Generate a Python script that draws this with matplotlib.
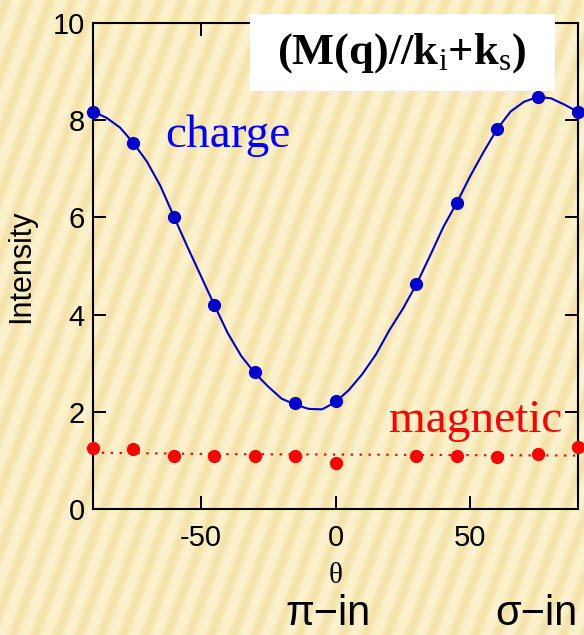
import numpy as np
import matplotlib
matplotlib.use("Agg")
import matplotlib.pyplot as plt
from matplotlib.patches import Rectangle

# --- data -------------------------------------------------------------
theta_pts = [-90, -75, -60, -45, -30, -15, 0, 30, 45, 60, 75, 90]
charge_pts = [8.17, 7.53, 6.00, 4.20, 2.82, 2.19, 2.22, 4.63, 6.29, 7.82, 8.48, 8.17]
magnetic_pts = [1.26, 1.23, 1.09, 1.09, 1.09, 1.09, 0.95, 1.09, 1.09, 1.06, 1.13, 1.28]

theta_fit = [-90, -85, -80, -75, -70, -65, -60, -55, -50, -45, -40, -35, -30,
             -25, -20, -15, -10, -5, 0, 5, 10, 15, 20, 25, 30, 35, 40, 45,
             50, 55, 60, 65, 70, 75, 80, 85, 90]
charge_fit = [8.18, 8.05, 7.85, 7.53, 7.15, 6.65, 6.02, 5.40, 4.80, 4.20, 3.62,
              3.15, 2.80, 2.52, 2.27, 2.15, 2.06, 2.05, 2.20, 2.45, 2.78, 3.18,
              3.68, 4.12, 4.62, 5.20, 5.80, 6.30, 6.85, 7.35, 7.82, 8.18, 8.38,
              8.48, 8.45, 8.32, 8.17]
theta_mag_fit = [-90, -45, 0, 45, 90]
magnetic_fit = [1.16, 1.13, 1.12, 1.11, 1.10]

x_ticks = [-50, 0, 50]
y_ticks = [0, 2, 4, 6, 8, 10]

# --- fonts ------------------------------------------------------------
SANS = ["Liberation Sans Narrow", "Liberation Sans", "DejaVu Sans"]
SERIF = ["Liberation Serif", "DejaVu Serif"]
plt.rcParams["font.family"] = SANS
plt.rcParams["axes.unicode_minus"] = False
plt.rcParams["mathtext.fontset"] = "custom"
plt.rcParams["mathtext.rm"] = "Liberation Serif"
plt.rcParams["mathtext.bf"] = "Liberation Serif:bold"
plt.rcParams["mathtext.it"] = "Liberation Serif:italic"

W, H, DPI = 584, 635, 100
fig = plt.figure(figsize=(W / DPI, H / DPI), dpi=DPI)

# --- striped parchment backdrop ----------------------------------------
bg = fig.add_axes([0, 0, 1, 1], zorder=-10)
yy, xx = np.mgrid[0:H, 0:W]
phase = 2 * np.pi * (xx + 0.37 * yy) / 22.0
s = 0.5 + 0.5 * np.sin(phase)
s = s ** 1.4
light = np.array([252, 242, 206]) / 255.0
dark = np.array([244, 226, 168]) / 255.0
img = light[None, None, :] * (1 - s[..., None]) + dark[None, None, :] * s[..., None]
bg.imshow(img, extent=[0, 1, 0, 1], aspect="auto", interpolation="bilinear")
bg.set_axis_off()

# --- main axes --------------------------------------------------------
L, R, B, T = 93, 578, 509, 23
ax = fig.add_axes([L / W, 1 - B / H, (R - L) / W, (B - T) / H])
ax.set_facecolor("none")

blue = "#0000CC"
red = "#FF0000"

ax.plot(theta_fit, charge_fit, color=blue, lw=1.5, zorder=3, clip_on=False)
ax.plot(theta_pts, charge_pts, "o", color=blue, ms=8.5, zorder=4, clip_on=False)
ax.plot(theta_mag_fit, magnetic_fit, color=red, lw=1.6, ls=(0, (1, 3)),
        zorder=3, clip_on=False)
ax.plot(theta_pts, magnetic_pts, "o", color=red, ms=8.5, zorder=4, clip_on=False)

ax.set_xlim(-90, 90)
ax.set_ylim(0, 10)
ax.set_xticks(x_ticks)
ax.set_yticks(y_ticks)
ax.tick_params(which="both", direction="in", length=9.5, width=1.4,
               top=True, right=True, labelsize=21, pad=6, colors="black")
ax.tick_params(axis="x", pad=11)
for sp in ax.spines.values():
    sp.set_linewidth(1.5)
    sp.set_color("black")

ax.set_ylabel("Intensity", fontsize=22, family=SANS, labelpad=12)
ax.set_xlabel("θ", fontsize=21, family=SERIF, labelpad=8)

ax.text(-63.3, 7.45, "charge", color="#0000FF", fontsize=34, family=SERIF,
        ha="left", va="baseline")
ax.text(20.0, 1.58, "magnetic", color=red, fontsize=34, family=SERIF,
        ha="left", va="baseline")

# --- header box -------------------------------------------------------
fig.patches.append(Rectangle((250 / W, 1 - 91 / H), 305 / W, 77 / H,
                             transform=fig.transFigure, facecolor="white",
                             edgecolor="none", zorder=5))
fig.text(402 / W, 1 - 53 / H,
         r"$\mathbf{(M(q)//}\mathbf{k}_\mathrm{i}\mathbf{+}\mathbf{k}_\mathrm{s}\mathbf{)}$",
         fontsize=32, ha="center", va="center", zorder=6)

# --- polarisation labels ----------------------------------------------
fig.text(285 / W, 1 - 634 / H, "π−in", fontsize=30,
         family=["Liberation Sans", "DejaVu Sans"], ha="left", va="bottom")
fig.text(495 / W, 1 - 634 / H, "σ−in", fontsize=30,
         family=["Liberation Sans", "DejaVu Sans"], ha="left", va="bottom")

fig.savefig("out.png", dpi=DPI)
